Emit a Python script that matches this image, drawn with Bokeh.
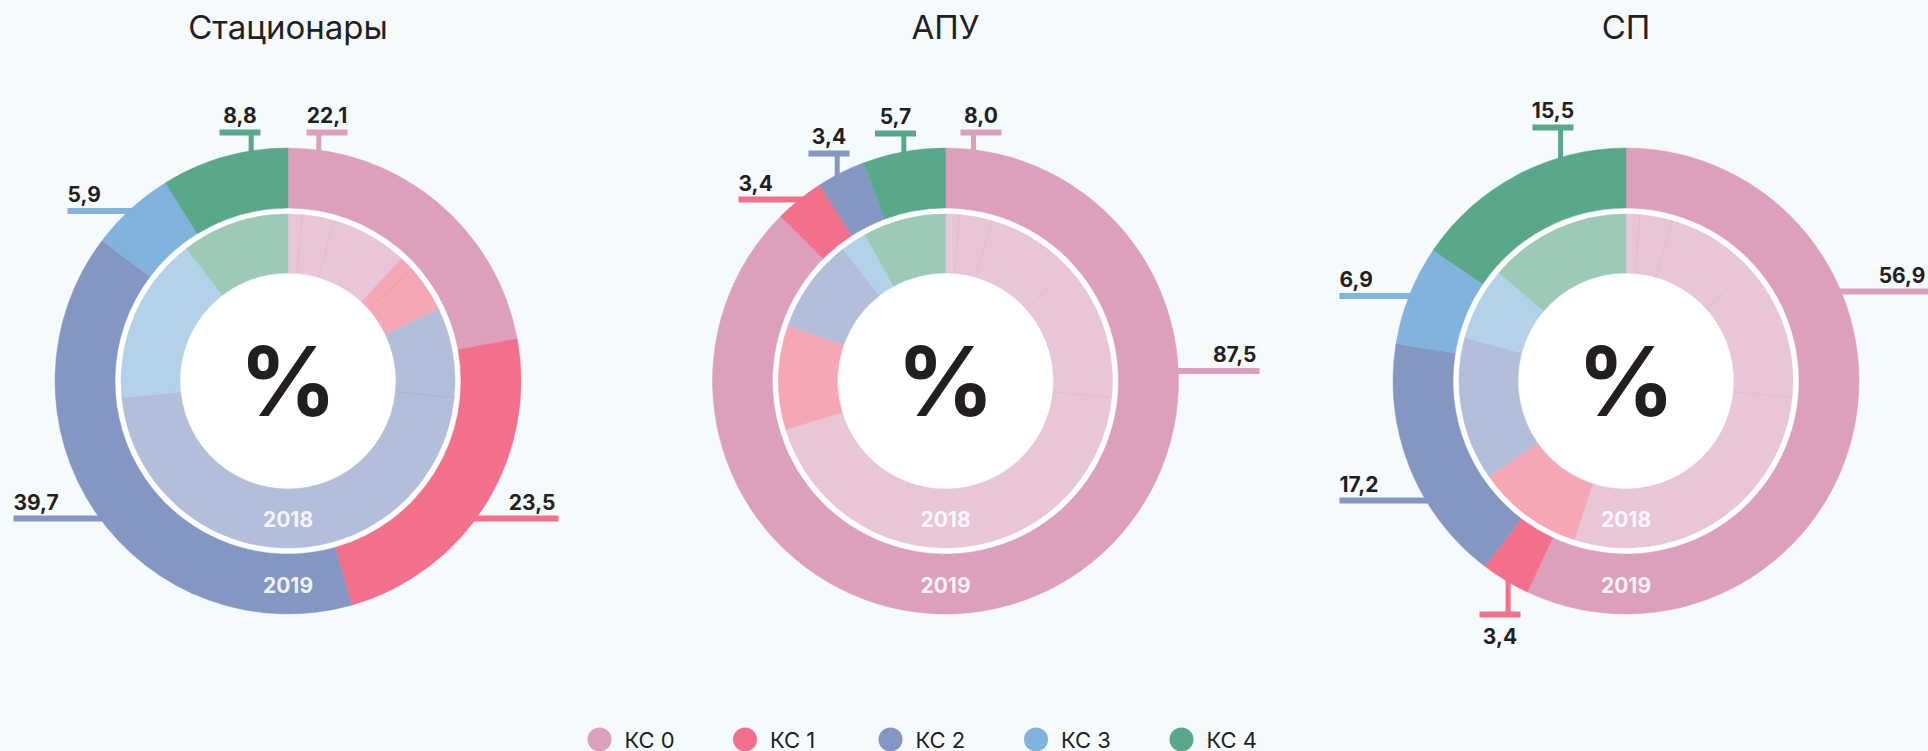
import numpy as np
from bokeh.plotting import figure
from bokeh.models import Range1d, ColumnDataSource
from bokeh.core.properties import value
from bokeh.embed import file_html
from bokeh.resources import INLINE

# ---------------- data ----------------
titles = ["Стационары", "АПУ", "СП"]
categories = ["КС 0", "КС 1", "КС 2", "КС 3", "КС 4"]
year_outer = "2019"
year_inner = "2018"

stac_2019 = [22.1, 23.5, 39.7, 5.9, 8.8]
stac_2018 = [11.9, 6.0, 55.5, 16.2, 10.4]
apu_2019 = [87.5, 3.4, 3.4, 0.0, 5.7]
apu_2018 = [70.3, 10.1, 9.1, 2.5, 8.0]
sp_2019 = [56.9, 3.4, 17.2, 6.9, 15.5]
sp_2018 = [55.0, 10.3, 13.9, 7.0, 13.8]
apu_extra_kc0_label = 8.0   # second КС 0 label printed on the АПУ chart

# ---------------- style / layout ----------------
BG = "#F5FAFD"
DARK = "#231F20"
OUTER = ["#DCA0BD", "#F2708A", "#8397C2", "#82B3DD", "#59A88A"]
INNER = ["#E8C5D7", "#F5A7B5", "#B3BEDA", "#B3D2EA", "#9CCAB7"]
FONT = value("Inter")

# Bokeh's page template has no body margin, so the figure fills the window
W, H = 1928, 751
OFF = 0


def X(x):
    return x - OFF


def Y(y):
    return (H + OFF) - y


centers = [(287.5, 380.5), (945.0, 380.5), (1625.5, 380.5)]
R_OUT, R_MID, R_IN_OUT, R_IN = 233, 173, 167, 108
SEAMS = [4.8, 16.2, 48.0, 95.7]

# label placement: (category, value, kind, params)
label_specs = [
    [(0, stac_2019[0], "up", (7.6, 326.5, 132)),
     (1, stac_2019[1], "right", (518, 558)),
     (2, stac_2019[2], "left", (518, 13)),
     (3, stac_2019[3], "left", (210.5, 67)),
     (4, stac_2019[4], "up", (-9.1, 239.5, 132))],
    [(0, apu_extra_kc0_label, "up", (6.9, 980.5, 132)),
     (0, apu_2019[0], "right", (370.5, 1259)),
     (1, apu_2019[1], "left", (199, 738)),
     (2, apu_2019[2], "up", (-27.7, 828.5, 153)),
     (4, apu_2019[4], "up", (-10.3, 895, 133))],
    [(0, sp_2019[0], "right", (291, 1928)),
     (1, sp_2019[1], "down", (210.4, 1499.5, 614)),
     (2, sp_2019[2], "left", (500, 1339)),
     (3, sp_2019[3], "left", (295.5, 1339)),
     (4, sp_2019[4], "up", (-16.3, 1552.5, 127))],
]

series = [(stac_2019, stac_2018), (apu_2019, apu_2018), (sp_2019, sp_2018)]

p = figure(width=W, height=H, x_range=Range1d(0, W), y_range=Range1d(0, H),
           x_axis_type=None, y_axis_type=None, toolbar_location=None,
           output_backend="svg", min_border=0,
           background_fill_color=BG, border_fill_color=BG, outline_line_color=None)
p.xgrid.visible = False
p.ygrid.visible = False


def fmt(v):
    return f"{v:.1f}".replace(".", ",")


def wedge_table(vals, colors, cx, cy):
    vals = np.asarray(vals, dtype=float)
    cum = np.concatenate([[0], np.cumsum(vals)]) / vals.sum() * 360.0
    keep = vals > 0
    return dict(
        x=[X(cx)] * int(keep.sum()), y=[Y(cy)] * int(keep.sum()),
        start=list(np.radians(90 - cum[:-1])[keep]),
        end=list(np.radians(90 - cum[1:])[keep]),
        color=[c for c, k in zip(colors, keep) if k],
    ), cum


seg = dict(x0=[], y0=[], x1=[], y1=[], color=[], w=[])
txt = dict(x=[], y=[], text=[], align=[])


def add_seg(x0, y0, x1, y1, color, w):
    seg["x0"].append(X(x0)); seg["y0"].append(Y(y0))
    seg["x1"].append(X(x1)); seg["y1"].append(Y(y1))
    seg["color"].append(color); seg["w"].append(w)


def add_txt(x, y, s, align):
    txt["x"].append(X(x)); txt["y"].append(Y(y)); txt["text"].append(s); txt["align"].append(align)


for (cx, cy), specs in zip(centers, label_specs):
    for cat, v, kind, prm in specs:
        col = OUTER[cat]
        if kind in ("up", "down"):
            th, bcx, by = prm
            sx = cx + R_OUT * np.sin(np.radians(th))
            sy = cy - R_OUT * np.cos(np.radians(th))
            if kind == "up":
                add_seg(sx, by, sx, sy + 5, col, 5)
                add_txt(bcx, by - 17.5, fmt(v), "center")
            else:
                add_seg(sx, sy - 5, sx, by, col, 5)
                add_txt(bcx, by + 21.5, fmt(v), "center")
            add_seg(bcx - 20.5, by, bcx + 20.5, by, col, 6)
        else:
            ly, ex = prm
            dx = np.sqrt(R_OUT ** 2 - (ly - cy) ** 2)
            if kind == "left":
                add_seg(ex, ly, cx - dx + 6, ly, col, 6)
                add_txt(ex, ly - 17, fmt(v), "left")
            else:
                add_seg(cx + dx - 6, ly, ex, ly, col, 6)
                add_txt(ex - 3, ly - 17, fmt(v), "right")

p.segment("x0", "y0", "x1", "y1", source=ColumnDataSource(seg),
          line_color="color", line_width="w", line_cap="butt")

seam = dict(x0=[], y0=[], x1=[], y1=[], color=[])
for (cx, cy), (v19, v18), title in zip(centers, series, titles):
    p.circle(x=[X(cx)], y=[Y(cy)], radius=R_MID, fill_color="white", line_color=None)
    d_in, cum_in = wedge_table(v18, INNER, cx, cy)
    p.annular_wedge(x="x", y="y", inner_radius=R_IN, outer_radius=R_IN_OUT,
                    start_angle="start", end_angle="end", direction="clock",
                    fill_color="color", line_color="color", line_width=0.5,
                    source=ColumnDataSource(d_in))
    d_out, _ = wedge_table(v19, OUTER, cx, cy)
    p.annular_wedge(x="x", y="y", inner_radius=R_MID, outer_radius=R_OUT,
                    start_angle="start", end_angle="end", direction="clock",
                    fill_color="color", line_color="color", line_width=0.5,
                    source=ColumnDataSource(d_out))
    for a in SEAMS:
        k = int(np.searchsorted(cum_in, a)) - 1
        s, c = np.sin(np.radians(a)), np.cos(np.radians(a))
        seam["x0"].append(X(cx + R_IN * s)); seam["y0"].append(Y(cy - R_IN * c))
        seam["x1"].append(X(cx + R_IN_OUT * s)); seam["y1"].append(Y(cy - R_IN_OUT * c))
        seam["color"].append(OUTER[k])
    # center + year labels + title
    p.text(x=[X(cx)], y=[Y(cy)], text=["%"], text_font=FONT, text_font_style="bold",
           text_font_size="96px", text_color=DARK, text_align="center", text_baseline="middle")
    p.text(x=[X(cx)], y=[Y(cy + 138)], text=[year_inner], text_font=FONT, text_font_style="bold",
           text_font_size="21px", text_color="white", text_alpha=0.9, text_align="center",
           text_baseline="middle")
    p.text(x=[X(cx)], y=[Y(cy + 203.5)], text=[year_outer], text_font=FONT, text_font_style="bold",
           text_font_size="21px", text_color="white", text_alpha=0.9, text_align="center",
           text_baseline="middle")
    p.text(x=[X(cx)], y=[Y(26)], text=[title], text_font=FONT, text_font_size="33px",
           text_color=DARK, text_align="center", text_baseline="middle")

p.segment("x0", "y0", "x1", "y1", source=ColumnDataSource(seam),
          line_color="color", line_width=1, line_alpha=0.25)

src_t = ColumnDataSource(txt)
p.text(x="x", y="y", text="text", text_align="align", source=src_t, text_font=FONT,
       text_font_style="bold", text_font_size="21px", text_color=DARK, text_baseline="middle")

# legend
lx0, lstep, ly = 599, 145.5, 739
lxs = [lx0 + i * lstep for i in range(len(categories))]
p.scatter(x=[X(v) for v in lxs], y=[Y(ly)] * len(lxs), marker="circle", size=24,
          fill_color=OUTER, line_color=None)
p.text(x=[X(v + 25) for v in lxs], y=[Y(ly)] * len(lxs), text=categories, text_font=FONT,
       text_font_size="22px", text_color=DARK, text_align="left", text_baseline="middle")

html = file_html(p, INLINE)
html = html.replace("</head>", "<style>body{background:%s;}</style></head>" % BG, 1)
open("out.html", "w").write(html)
